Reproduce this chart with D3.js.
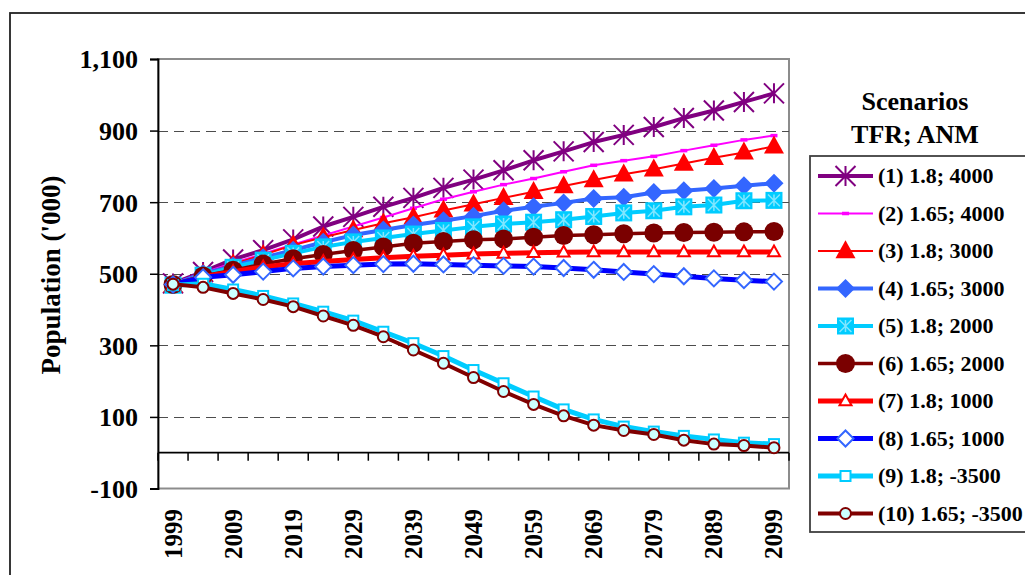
<!DOCTYPE html>
<html>
<head>
<meta charset="utf-8">
<script src="https://cdn.jsdelivr.net/npm/d3@7"></script>
<style>
  html, body { margin: 0; padding: 0; background: #fff; }
  svg { display: block; }
  text { font-family: "Liberation Serif", "Times New Roman", serif; font-weight: bold; fill: #000; }
</style>
</head>
<body>
<svg id="chart" width="1025" height="575"></svg>
<script>
// ---- data ----
const years = [1999,2004,2009,2014,2019,2024,2029,2034,2039,2044,2049,2054,2059,2064,2069,2074,2079,2084,2089,2094,2099];
const xTickLabels = ["1999","2009","2019","2029","2039","2049","2059","2069","2079","2089","2099"];
const yTickValues = [-100,100,300,500,700,900,1100];
const yTitle = "Population ('000)";
const legendTitle1 = "Scenarios";
const legendTitle2 = "TFR; ANM";

const names = ["(1) 1.8; 4000","(2) 1.65; 4000","(3) 1.8; 3000","(4) 1.65; 3000","(5) 1.8; 2000",
               "(6) 1.65; 2000","(7) 1.8; 1000","(8) 1.65; 1000","(9) 1.8; -3500","(10) 1.65; -3500"];

const s1  = [473,505,540,566,596,632,659,687,712,740,763,789,817,842,868,888,910,935,956,980,1004];
const s2  = [473,503,530,556,582,607,632,657,683,708,729,749,766,785,803,816,828,844,859,874,886];
const s3  = [468,500,527,553,580,602,622,641,658,677,694,712,729,745,762,778,792,808,824,839,856];
const s4  = [470,500,522,545,566,588,608,622,636,648,661,676,687,698,710,714,727,732,738,746,753];
const s5  = [468,496,518,538,557,575,589,600,611,621,631,639,644,651,660,670,676,687,692,704,705];
const s6  = [470,494,510,527,542,554,565,575,585,590,595,597,602,607,609,612,614,615,616,617,618];
const s7  = [468,492,506,519,528,534,540,545,549,552,555,557,559,560,561,561,561,561,561,561,561];
const s8  = [470,490,497,506,515,520,524,527,528,526,524,522,520,516,511,505,499,493,487,482,478];
const s9  = [468,472,456,438,417,394,369,338,306,270,231,194,157,121,93,73,59,47,37,28,24];
const s10 = [471,462,445,428,408,382,356,324,287,250,210,171,135,103,77,62,51,35,24,20,14];
const seriesValues = [s1,s2,s3,s4,s5,s6,s7,s8,s9,s10];

// ---- styles ----
const styles = [
  {line:"#800080", lw:4,   marker:"asterisk", mStroke:"#800080", mFill:"none",    size:20, sw:2},
  {line:"#ff00ff", lw:2,   marker:"dash",     mStroke:"none",    mFill:"#ff00ff", size:7,  sw:0},
  {line:"#ff0000", lw:2,   marker:"triangle", mStroke:"none",    mFill:"#ff0000", size:20, sw:0},
  {line:"#3366ff", lw:4,   marker:"diamond",  mStroke:"none",    mFill:"#3366ff", size:19, sw:0},
  {line:"#00ccff", lw:4,   marker:"starsq",   mStroke:"#80e6ff", mFill:"#00ccff", size:17, sw:1.5},
  {line:"#800000", lw:3.5, marker:"circle",   mStroke:"none",    mFill:"#7a0000", size:19, sw:0},
  {line:"#ff0000", lw:5,   marker:"triangle", mStroke:"#ff0000", mFill:"#ffffff", size:12, sw:2},
  {line:"#0000ff", lw:5,   marker:"diamond",  mStroke:"#3366ff", mFill:"#ffffff", size:16, sw:2},
  {line:"#00ccff", lw:5,   marker:"square",   mStroke:"#00ccff", mFill:"#ffffff", size:10, sw:2},
  {line:"#800000", lw:4,   marker:"circle",   mStroke:"#800000", mFill:"#ccffff", size:11, sw:2}
];

const svg = d3.select("#chart");
const plot = {left:158, right:789, top:59, bottom:488.5};

// outer chart border
svg.append("rect").attr("x",10).attr("y",13).attr("width",1100).attr("height",700)
  .attr("fill","none").attr("stroke","#222").attr("stroke-width",1.8);

const x = d3.scaleBand().domain(years).range([plot.left, plot.right]).padding(0);
const y = d3.scaleLinear().domain([-100,1100]).range([plot.bottom, plot.top]);

// plot area border (gray)
svg.append("rect").attr("x",plot.left).attr("y",plot.top)
  .attr("width",plot.right-plot.left).attr("height",plot.bottom-plot.top)
  .attr("fill","none").attr("stroke","#8c8c8c").attr("stroke-width",2);

// gridlines
svg.append("g").selectAll("line").data(yTickValues.filter(v => v>-100 && v<1100)).join("line")
  .attr("x1",plot.left).attr("x2",plot.right)
  .attr("y1",d=>Math.round(y(d))+0.5).attr("y2",d=>Math.round(y(d))+0.5)
  .attr("stroke","#4d4d4d").attr("stroke-width",1).attr("stroke-dasharray","10,6");

// y axis
const fmt = d3.format(",");
const yAxis = d3.axisLeft(y).tickValues(yTickValues)
  .tickFormat(d => fmt(d).replace("\u2212","-")).tickSize(8).tickPadding(12);
const gy = svg.append("g").attr("transform",`translate(${plot.left},0)`).call(yAxis);
gy.select(".domain").attr("stroke","#000").attr("stroke-width",1.8);
gy.selectAll(".tick line").attr("stroke","#000").attr("stroke-width",1.5);
gy.selectAll(".tick text").attr("font-size",26).attr("font-family","Liberation Serif").attr("font-weight","bold")
  .attr("dy","0.34em").attr("fill","#000");

// x axis at zero
const y0 = y(0);
svg.append("line").attr("x1",plot.left).attr("x2",plot.right).attr("y1",y0).attr("y2",y0)
  .attr("stroke","#000").attr("stroke-width",1.8);
const boundaries = years.map(d => x(d)).concat([x(years[years.length-1]) + x.bandwidth()]);
svg.append("g").selectAll("line").data(boundaries).join("line")
  .attr("x1",d=>d).attr("x2",d=>d).attr("y1",y0).attr("y2",y0+8)
  .attr("stroke","#000").attr("stroke-width",1.5);

// x labels (every other category)
svg.append("g").selectAll("text").data(xTickLabels).join("text")
  .attr("transform", d => `translate(${x(+d) + x.bandwidth()/2 + 8.5},509) rotate(-90)`)
  .attr("text-anchor","end").attr("font-size",25).text(d=>d);

// y title
svg.append("text").attr("transform","translate(59.5,275) rotate(-90)")
  .attr("text-anchor","middle").attr("font-size",27).text(yTitle);

// series
const cx = d => x(d) + x.bandwidth()/2;
const lineGen = (vals) => d3.line().x((v,i)=>cx(years[i])).y(v=>y(v))(vals);

function drawMarker(g, st, px, py) {
  const s = st.size, h = s/2;
  if (st.marker === "asterisk") {
    g.append("path").attr("d",`M${px-h},${py-h}L${px+h},${py+h}M${px-h},${py+h}L${px+h},${py-h}M${px},${py-h}L${px},${py+h}`)
      .attr("stroke",st.mStroke).attr("stroke-width",st.sw).attr("fill","none");
  } else if (st.marker === "dash") {
    g.append("rect").attr("x",px-3.5).attr("y",py-1.75).attr("width",7).attr("height",3.5).attr("fill",st.mFill);
  } else if (st.marker === "triangle") {
    const hh = s*0.9;
    g.append("path").attr("d",`M${px},${py-hh*0.6}L${px+h},${py+hh*0.4}L${px-h},${py+hh*0.4}Z`)
      .attr("fill",st.mFill).attr("stroke",st.mStroke).attr("stroke-width",st.sw).attr("stroke-linejoin","miter");
  } else if (st.marker === "diamond") {
    g.append("path").attr("d",`M${px},${py-h}L${px+h},${py}L${px},${py+h}L${px-h},${py}Z`)
      .attr("fill",st.mFill).attr("stroke",st.mStroke).attr("stroke-width",st.sw);
  } else if (st.marker === "square") {
    g.append("rect").attr("x",px-h).attr("y",py-h).attr("width",s).attr("height",s)
      .attr("fill",st.mFill).attr("stroke",st.mStroke).attr("stroke-width",st.sw);
  } else if (st.marker === "starsq") {
    g.append("rect").attr("x",px-h).attr("y",py-h).attr("width",s).attr("height",s).attr("fill",st.mFill);
    const a = h*0.7;
    g.append("path").attr("d",`M${px-a},${py-a}L${px+a},${py+a}M${px-a},${py+a}L${px+a},${py-a}M${px},${py-a}L${px},${py+a}`)
      .attr("stroke",st.mStroke).attr("stroke-width",st.sw).attr("fill","none");
  } else if (st.marker === "circle") {
    g.append("circle").attr("cx",px).attr("cy",py).attr("r",h)
      .attr("fill",st.mFill).attr("stroke",st.mStroke).attr("stroke-width",st.sw);
  }
}

seriesValues.forEach((vals, k) => {
  const st = styles[k];
  const g = svg.append("g");
  g.append("path").attr("d", lineGen(vals)).attr("fill","none")
    .attr("stroke",st.line).attr("stroke-width",st.lw).attr("stroke-linejoin","round");
  vals.forEach((v,i) => drawMarker(g, st, cx(years[i]), y(v)));
});

// legend
svg.append("text").attr("x",915).attr("y",110).attr("text-anchor","middle").attr("font-size",26).text(legendTitle1);
svg.append("text").attr("x",915).attr("y",143).attr("text-anchor","middle").attr("font-size",26).text(legendTitle2);
svg.append("rect").attr("x",810).attr("y",156).attr("width",300).attr("height",376)
  .attr("fill","#fff").attr("stroke","#404040").attr("stroke-width",1.8);

names.forEach((n,k) => {
  const st = styles[k];
  const cy = 176 + 37.5*k;
  const g = svg.append("g");
  g.append("line").attr("x1",818).attr("x2",873).attr("y1",cy).attr("y2",cy)
    .attr("stroke",st.line).attr("stroke-width",st.lw);
  drawMarker(g, st, 845.5, cy);
  g.append("text").attr("x",878).attr("y",cy+7).attr("font-size",22).text(n);
});
</script>
</body>
</html>
